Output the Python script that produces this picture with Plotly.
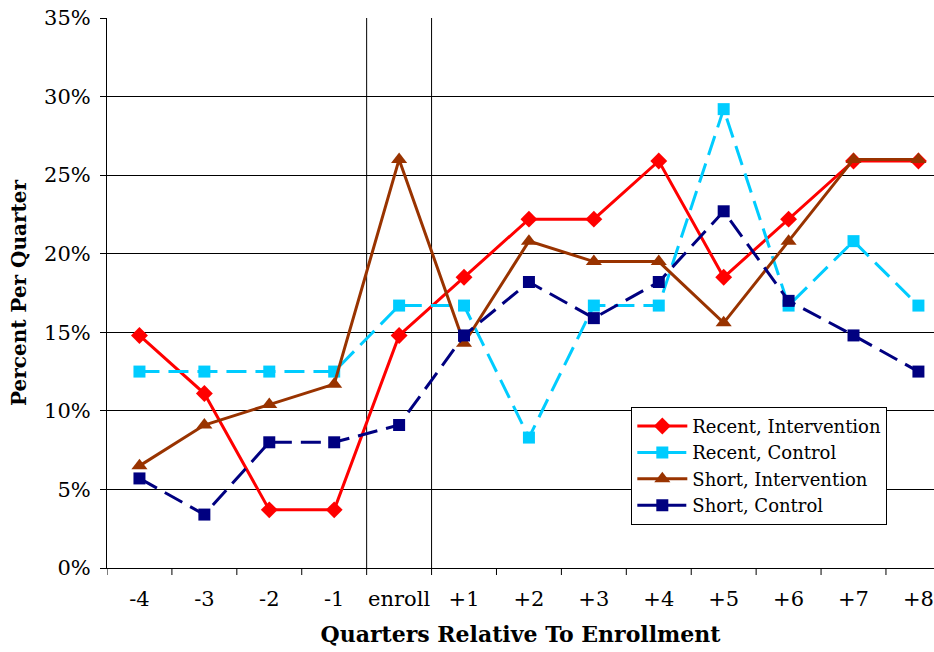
import plotly.graph_objects as go

categories = ["-4", "-3", "-2", "-1", "enroll", "+1", "+2", "+3", "+4", "+5", "+6", "+7", "+8"]
recent_intervention = [14.8, 11.1, 3.7, 3.7, 14.8, 18.5, 22.2, 22.2, 25.9, 18.5, 22.2, 25.9, 25.9]
recent_control = [12.5, 12.5, 12.5, 12.5, 16.7, 16.7, 8.3, 16.7, 16.7, 29.2, 16.7, 20.8, 16.7]
short_intervention = [6.5, 9.1, 10.4, 11.7, 26.0, 14.3, 20.8, 19.5, 19.5, 15.6, 20.8, 26.0, 26.0]
short_control = [5.7, 3.4, 8.0, 8.0, 9.1, 14.8, 18.2, 15.9, 18.2, 22.7, 17.0, 14.8, 12.5]
y_ticks = [0, 5, 10, 15, 20, 25, 30, 35]
y_ticklabels = ["0%", "5%", "10%", "15%", "20%", "25%", "30%", "35%"]

FONT = "DejaVu Serif"
xs = list(range(len(categories)))

fig = go.Figure()
series = [
    ("Recent, Intervention", recent_intervention, "#FF0000", "diamond", "solid", 13),
    ("Recent, Control", recent_control, "#00CCFF", "square", "20px,9px", 12),
    ("Short, Intervention", short_intervention, "#993300", "triangle-up", "solid", 14),
    ("Short, Control", short_control, "#000080", "square", "20px,9px", 12),
]
for name, vals, color, sym, dash, msize in series:
    fig.add_trace(go.Scatter(
        x=xs, y=vals, name=name, mode="lines+markers",
        line=dict(color=color, width=3, dash=dash),
        marker=dict(symbol=sym, size=msize, color=color),
    ))

for xv in [3.5, 4.5]:
    fig.add_shape(type="line", x0=xv, x1=xv, y0=0, y1=35, xref="x", yref="y",
                  line=dict(color="black", width=1), layer="below")

fig.update_layout(
    width=934, height=652,
    margin=dict(l=107, r=0, t=18, b=84),
    paper_bgcolor="white", plot_bgcolor="white",
    font=dict(family=FONT, color="black", size=21),
    showlegend=True,
    legend=dict(
        x=0.634, y=0.293, xanchor="left", yanchor="top",
        bgcolor="white", bordercolor="black", borderwidth=1,
        font=dict(family=FONT, size=18), tracegroupgap=0,
        itemwidth=50,
    ),
    xaxis=dict(
        range=[-0.5, 12.24],
        tickmode="array", tickvals=xs, ticktext=categories,
        showgrid=False, zeroline=False,
        showline=True, linecolor="black", linewidth=1,
        ticks="", tickfont=dict(size=21), ticklabelstandoff=12,
        title=dict(text="<b>Quarters Relative To Enrollment</b>", font=dict(size=22), standoff=16),
    ),
    yaxis=dict(
        range=[0, 35],
        tickmode="array", tickvals=y_ticks, ticktext=y_ticklabels,
        showgrid=True, gridcolor="black", gridwidth=1,
        zeroline=False,
        showline=True, linecolor="black", linewidth=1,
        ticks="outside", ticklen=6, tickcolor="black",
        tickfont=dict(size=21), ticklabelstandoff=5,
        title=dict(text="<b>Percent Per Quarter</b>", font=dict(size=20), standoff=12),
    ),
)

for i in range(len(categories) + 1):
    xb = i - 0.5
    fig.add_shape(type="line", x0=xb, x1=xb, y0=0, y1=-7, xref="x", yref="paper",
                  line=dict(color="black", width=1), ysizemode="pixel", yanchor=0)

fig.write_html("out.html")
